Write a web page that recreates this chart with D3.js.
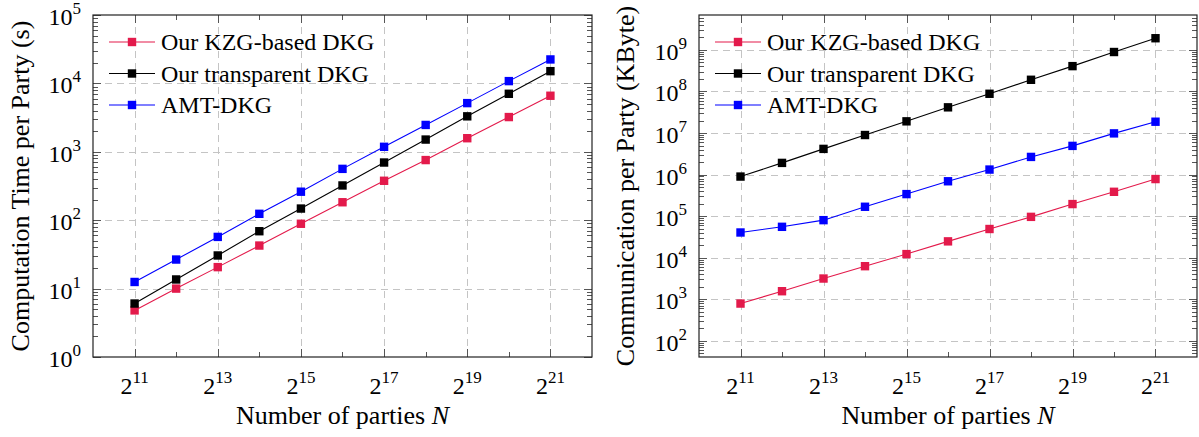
<!DOCTYPE html>
<html>
<head>
<meta charset="utf-8">
<script src="https://cdn.jsdelivr.net/npm/d3@7"></script>
<style>
  body { margin: 0; background: #fff; }
  svg text { font-family: "Liberation Serif", "Times New Roman", serif; fill: #000; }
</style>
</head>
<body>
<div id="chart"></div>
<script>
// N = 2^e for each point
var exponents = [11, 12, 13, 14, 15, 16, 17, 18, 19, 20, 21];
var xLabelExps = [11, 13, 15, 17, 19, 21];

var seriesNames = ["Our KZG-based DKG", "Our transparent DKG", "AMT-DKG"];
var seriesColors = ["#e31a4b", "#000000", "#0000ff"];

// computation time per party (s)
var compKzg = [4.8, 10.0, 20.6, 42.6, 88.7, 183, 377, 757, 1580, 3220, 6600];
var compTransparent = [6.05, 13.6, 30.5, 69, 148, 322, 697, 1510, 3300, 7050, 15100];
var compAmt = [12.5, 26.6, 57, 124, 261, 563, 1183, 2470, 5150, 10800, 22400];

// communication per party (KByte)
var commKzg = [787, 1560, 3150, 6240, 12200, 24700, 49000, 96000, 195000, 385000, 780000];
var commTransparent = [8.95e5, 1.91e6, 4.15e6, 8.95e6, 1.91e7, 4.15e7, 8.8e7, 1.91e8, 4.07e8, 8.9e8, 1.91e9];
var commAmt = [4.04e4, 5.53e4, 8.0e4, 1.68e5, 3.39e5, 6.9e5, 1.32e6, 2.66e6, 4.9e6, 9.8e6, 1.87e7];

var compYDecades = [0, 1, 2, 3, 4, 5];
var commYDecades = [2, 3, 4, 5, 6, 7, 8, 9];

var W = 1199, H = 437;

var svg = d3.select("#chart").append("svg")
    .attr("width", W)
    .attr("height", H);

function drawPanel(p) {
  var g = svg.append("g");

  var x = d3.scaleLog().base(2)
      .domain([Math.pow(2, 10), Math.pow(2, 22)])
      .range([p.left, p.right]);

  var y = d3.scaleLog()
      .domain(p.yDomain)
      .range([p.bottom, p.top]);

  var lo = Math.log10(p.yDomain[0]), hi = Math.log10(p.yDomain[1]);

  // grid
  var grid = g.append("g")
      .attr("stroke", "#c4c4c4")
      .attr("stroke-width", 1)
      .attr("stroke-dasharray", "7,5");

  grid.selectAll(".gx")
      .data(xLabelExps)
    .enter().append("line")
      .attr("x1", d => Math.round(x(Math.pow(2, d))) + 0.5)
      .attr("x2", d => Math.round(x(Math.pow(2, d))) + 0.5)
      .attr("y1", p.top)
      .attr("y2", p.bottom);

  grid.selectAll(".gy")
      .data(p.decades.filter(d => d > lo + 0.01 && d < hi - 0.01))
    .enter().append("line")
      .attr("x1", p.left)
      .attr("x2", p.right)
      .attr("y1", d => Math.round(y(Math.pow(10, d))) + 0.5)
      .attr("y2", d => Math.round(y(Math.pow(10, d))) + 0.5);

  // ticks (inward, all four sides)
  var ticks = g.append("g")
      .attr("stroke", "#555")
      .attr("stroke-width", 1);

  var minorY = [];
  for (var d = Math.floor(lo); d <= Math.ceil(hi); d++) {
    for (var m = 2; m <= 9; m++) {
      var v = m * Math.pow(10, d);
      if (v > p.yDomain[0] && v < p.yDomain[1]) minorY.push(v);
    }
  }
  var majorY = p.decades.map(d => Math.pow(10, d));

  [[majorY, 8], [minorY, 5]].forEach(function(set) {
    set[0].forEach(function(v) {
      var yy = Math.round(y(v)) + 0.5;
      ticks.append("line").attr("x1", p.left).attr("x2", p.left + set[1]).attr("y1", yy).attr("y2", yy);
      ticks.append("line").attr("x1", p.right).attr("x2", p.right - set[1]).attr("y1", yy).attr("y2", yy);
    });
  });

  exponents.forEach(function(e) {
    var len = (e % 2) ? 8 : 5;
    var xx = Math.round(x(Math.pow(2, e))) + 0.5;
    ticks.append("line").attr("x1", xx).attr("x2", xx).attr("y1", p.bottom).attr("y2", p.bottom - len);
    ticks.append("line").attr("x1", xx).attr("x2", xx).attr("y1", p.top).attr("y2", p.top + len);
  });

  // frame
  g.append("rect")
      .attr("x", p.left)
      .attr("y", p.top)
      .attr("width", p.right - p.left)
      .attr("height", p.bottom - p.top)
      .attr("fill", "none")
      .attr("stroke", "#222")
      .attr("stroke-width", 1.2);

  // y tick labels 10^k
  var yl = g.selectAll(".ylab")
      .data(p.decades)
    .enter().append("text")
      .attr("x", p.left - 12)
      .attr("y", d => y(Math.pow(10, d)) + 10)
      .attr("text-anchor", "end")
      .style("font-size", "24px");
  yl.append("tspan").text("10");
  yl.append("tspan")
      .attr("dy", -11)
      .style("font-size", "17px")
      .text(d => d);

  // x tick labels 2^k
  var xl = g.selectAll(".xlab")
      .data(xLabelExps)
    .enter().append("text")
      .attr("x", d => x(Math.pow(2, d)))
      .attr("y", 394)
      .attr("text-anchor", "middle")
      .style("font-size", "24px");
  xl.append("tspan").text("2");
  xl.append("tspan")
      .attr("dy", -11)
      .style("font-size", "17px")
      .text(d => d);

  // axis titles
  var xt = g.append("text")
      .attr("x", (p.left + p.right) / 2)
      .attr("y", 424)
      .attr("text-anchor", "middle")
      .style("font-size", "26px");
  xt.append("tspan").text("Number of parties ");
  xt.append("tspan").style("font-style", "italic").text("N");

  g.append("text")
      .attr("transform", "translate(" + p.titleX + "," + ((p.top + p.bottom) / 2) + ") rotate(-90)")
      .attr("text-anchor", "middle")
      .style("font-size", "26px")
      .text(p.yTitle);

  // series
  var line = d3.line()
      .x((_, i) => x(Math.pow(2, exponents[i])))
      .y(d => y(d));

  p.series.forEach(function(vals, k) {
    var s = g.append("g");
    s.append("path")
        .attr("d", line(vals))
        .attr("fill", "none")
        .attr("stroke", seriesColors[k])
        .attr("stroke-width", 1.1);
    s.selectAll("rect")
        .data(vals)
      .enter().append("rect")
        .attr("x", (_, i) => x(Math.pow(2, exponents[i])) - 4.2)
        .attr("y", d => y(d) - 4.2)
        .attr("width", 8.4)
        .attr("height", 8.4)
        .attr("fill", seriesColors[k]);
  });

  // legend
  var lg = g.append("g")
      .attr("transform", "translate(" + p.left + "," + p.top + ")");
  var rows = lg.selectAll(".row")
      .data(seriesNames)
    .enter().append("g")
      .attr("transform", (_, i) => "translate(0," + (27 + i * 31.5) + ")");
  rows.append("line")
      .attr("x1", 16)
      .attr("x2", 62)
      .attr("stroke", (_, i) => seriesColors[i])
      .attr("stroke-width", 1.1);
  rows.append("rect")
      .attr("x", 39 - 4.2)
      .attr("y", -4.2)
      .attr("width", 8.4)
      .attr("height", 8.4)
      .attr("fill", (_, i) => seriesColors[i]);
  rows.append("text")
      .attr("x", 68)
      .attr("y", 8)
      .style("font-size", "24px")
      .text(d => d);
}

drawPanel({
  left: 93, right: 592, top: 15, bottom: 357,
  yDomain: [1, 1e5],
  decades: compYDecades,
  titleX: 29,
  yTitle: "Computation Time per Party (s)",
  series: [compKzg, compTransparent, compAmt]
});

drawPanel({
  left: 699, right: 1197, top: 15, bottom: 357,
  yDomain: [Math.pow(10, 1.61), Math.pow(10, 9.84)],
  decades: commYDecades,
  titleX: 634,
  yTitle: "Communication per Party (KByte)",
  series: [commKzg, commTransparent, commAmt]
});
</script>
</body>
</html>
